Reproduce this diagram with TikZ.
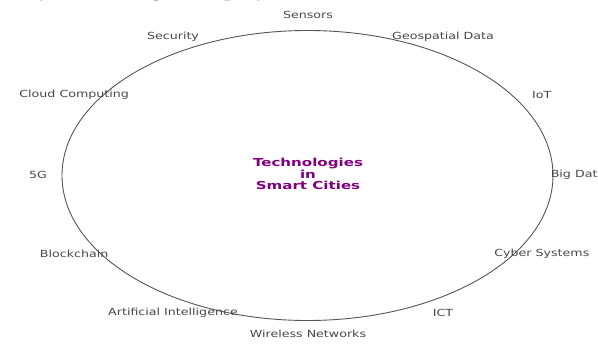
\documentclass[tikz,border=0pt]{standalone}
\usepackage{fontspec}
\setmainfont{DejaVu Sans}
\newfontfamily\captionfont{Liberation Serif}
\usetikzlibrary{shapes.geometric}
\definecolor{hubpurple}{HTML}{800080}
\definecolor{labelgray}{HTML}{474747}
\definecolor{ringgray}{HTML}{555555}
\begin{document}
\begin{tikzpicture}[x=1pt,y=1pt,
  techlabel/.style={font=\fontsize{9.8}{11}\selectfont, text=labelgray, inner sep=0pt},
  hub/.style={font=\fontsize{11}{10.8}\selectfont\bfseries, text=hubpurple, inner sep=0pt},
  ringstyle/.style={draw=ringgray, line width=0.9pt, ellipse, inner sep=0pt}]
\useasboundingbox (0,0) rectangle (598,349);

% caption line of the page above the figure; only its descenders fall inside the frame
\begin{scope}
  \clip (0,0) rectangle (598,349);
  \node[anchor=base west, inner sep=0pt,
        font=\captionfont\bfseries\fontsize{24.2}{29}\selectfont] (caption)
    at (9.4,353.3) {Key Technologies Deployed in Smart Cities};
\end{scope}

% the ring
\node[ringstyle, minimum width=491pt, minimum height=290pt] (ring) at (307.5,173.5) {};

% centre title
\node[hub] (hub) at (308,173.2)
  {\scalebox{1.37}[1]{\begin{tabular}{@{}c@{}}Technologies\\in\\Smart Cities\end{tabular}}};

% technology labels around the ring
\foreach \nm/\ang/\txt in {
    bigdata/0/Big Data,
    iot/30/IoT,
    geo/60/Geospatial Data,
    sensors/90/Sensors,
    security/120/Security,
    cloud/150/Cloud Computing,
    fiveg/180/5G,
    blockchain/210/Blockchain,
    ai/240/Artificial Intelligence,
    wireless/270/Wireless Networks,
    ict/300/ICT,
    cyber/330/Cyber Systems}
  \node[techlabel] (\nm) at ({308+270*cos(\ang)},{174.5+159.5*sin(\ang)})
    {\scalebox{1.29}[1]{\txt}};
\end{tikzpicture}
\end{document}
